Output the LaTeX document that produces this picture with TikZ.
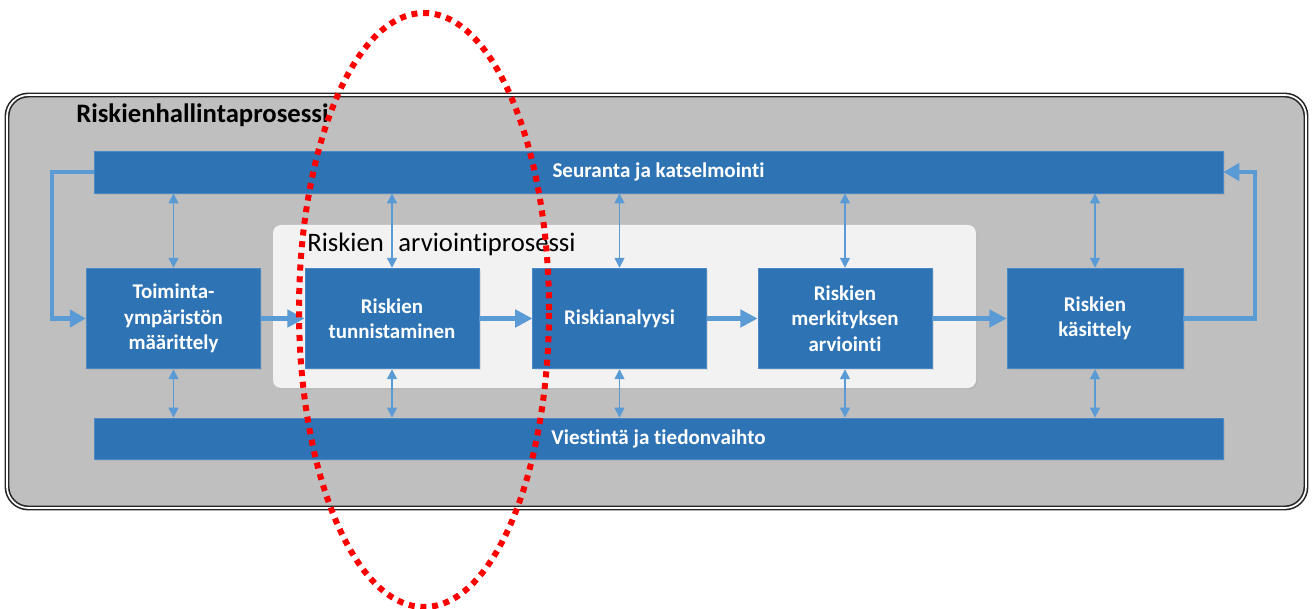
\documentclass[tikz,border=0pt]{standalone}
\usepackage{fontspec}
\setmainfont{Carlito}[Ligatures=NoCommon, RawFeature={-calt}]
\usetikzlibrary{arrows.meta,fit,shadows}
\definecolor{boxblue}{HTML}{2E74B5}
\definecolor{boxedge}{HTML}{4A88C6}
\definecolor{arrowblue}{HTML}{5B9BD5}
\definecolor{bggray}{HTML}{BFBFBF}
\definecolor{panelgray}{HTML}{F2F2F2}
\begin{document}
\begin{tikzpicture}[x=0.75pt,y=-0.75pt,
  frame/.style={draw=black!85, line width=1.2pt, double=white, double distance=1.3pt, fill=bggray, rounded corners=16pt, inner sep=0pt},
  panel/.style={fill=panelgray, rounded corners=6pt, inner sep=0pt, drop shadow={shadow xshift=1pt, shadow yshift=-1pt, opacity=0.15}},
  stepbox/.style={fill=boxblue, draw=boxedge, line width=0.6pt, inner sep=0pt, text=white, align=center,
     font=\fontsize{15.7pt}{19pt}\selectfont\bfseries, drop shadow={shadow xshift=1.2pt, shadow yshift=-1.2pt, opacity=0.18}},
  bar/.style={stepbox},
  bartext/.style={text=white, inner sep=0pt, font=\fontsize{15.8pt}{19pt}\selectfont\bfseries},
  thick arrow/.style={draw=arrowblue, line width=3pt, -{Triangle[length=13pt,width=13pt]}},
  loop arrow/.style={draw=arrowblue, line width=3pt, -{Triangle[length=12pt,width=13pt]}},
  thin arrow/.style={draw=arrowblue, line width=1.1pt, {Triangle[length=7.5pt,width=7.5pt]}-{Triangle[length=7.5pt,width=7.5pt]}},
  redring/.style={draw=red, line width=4.5pt, dash pattern=on 4.5pt off 4.3pt}
]
\useasboundingbox (0,0) rectangle (1312,609);
\fill[white] (0,0) rectangle (1312,609);

% outer frame
\node[frame, fit={(7,95) (1306,508)}] (frame) {};
\node[anchor=base west, inner sep=0pt, font=\fontsize{20pt}{24pt}\selectfont\bfseries] (title) at (76,123) {Riskienhallintaprosessi};

% inner panel
\node[panel, fit={(273,225) (976,388)}] (panel) {};
\node[anchor=base west, inner sep=0pt, font=\fontsize{20pt}{24pt}\selectfont] (ptitle) at (307,252) {Riskien\hspace{11pt}arviointiprosessi};

% bars
\node[bar, fit={(94,151) (1223,193)}] (top) {};
\node[bartext] (toptext) at (top.center) {Seuranta ja katselmointi};
\node[bar, fit={(94,418) (1223,459)}] (bottom) {};
\node[bartext] (bottomtext) at (bottom.center) {Viestintä ja tiedonvaihto};

% process boxes
\node[stepbox, minimum width=131pt, minimum height=75.5pt] (b1) at (173.5,318.5) {Toiminta-\\ympäristön\\määrittely};
\node[stepbox, minimum width=130.5pt, minimum height=75.5pt] (b2) at (392,318.5) {Riskien\\tunnistaminen};
\node[stepbox, minimum width=130pt, minimum height=75.5pt] (b3) at (619.5,318.5) {Riskianalyysi};
\node[stepbox, minimum width=130.5pt, minimum height=75.5pt] (b4) at (845,318.5) {Riskien\\merkityksen\\arviointi};
\node[stepbox, minimum width=132pt, minimum height=75.5pt] (b5) at (1095,318.5) {Riskien\\käsittely};

% main flow
\draw[thick arrow] (b1) -- (b2);
\draw[thick arrow] (b2) -- (b3);
\draw[thick arrow] (b3) -- (b4);
\draw[thick arrow] (b4) -- (b5);

% feedback loops
\draw[loop arrow] (top.west) -- ++(-42,0) |- (b1.west);
\draw[loop arrow] (b5.east) -- ++(72,0) |- (top.east);

% two-way links
\foreach \b in {b1,b2,b3,b4,b5}{
  \draw[thin arrow] (top.south -| \b.north) -- (\b.north);
  \draw[thin arrow] (\b.south) -- (bottom.north -| \b.south);
}

% red dotted ellipse
\draw[redring] (424,310) ellipse [x radius=93.75pt, y radius=222.75pt];
\end{tikzpicture}
\end{document}
